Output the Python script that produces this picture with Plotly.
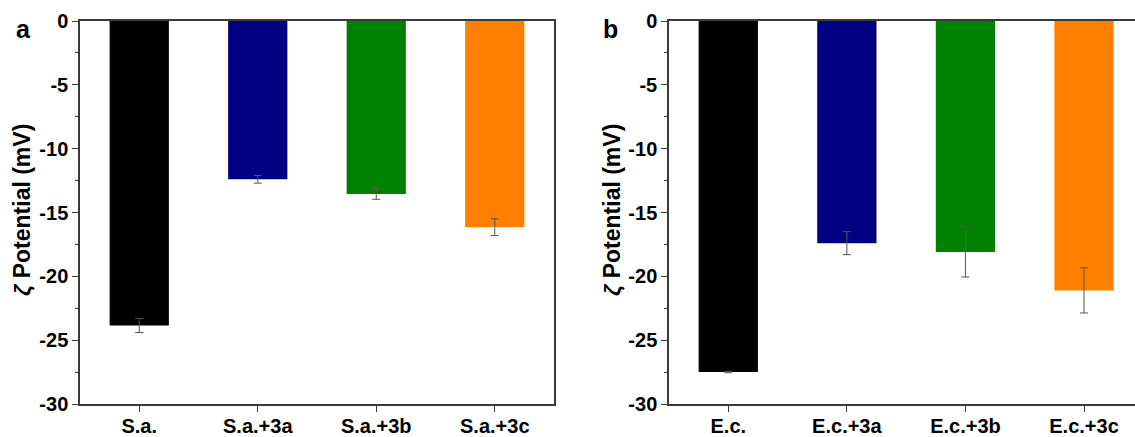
import plotly.graph_objects as go

# ---- data ----
cats_a = ["S.a.", "S.a.+3a", "S.a.+3b", "S.a.+3c"]
vals_a = [-23.85, -12.4, -13.55, -16.15]
errs_a = [0.55, 0.3, 0.42, 0.66]

cats_b = ["E.c.", "E.c.+3a", "E.c.+3b", "E.c.+3c"]
vals_b = [-27.5, -17.4, -18.1, -21.1]
errs_b = [0.05, 0.9, 1.95, 1.77]

bar_colors = ["#000000", "#000080", "#008000", "#FF8000"]
y_tickvals = [0, -5, -10, -15, -20, -25, -30]
y_ticktext = ["0", "-5", "-10", "-15", "-20", "-25", "-30"]
y_title = "<i>ζ</i> Potential (mV)"
panel_labels = ["a", "b"]

W, H = 1135, 437
FONT = "Liberation Sans, Arial, sans-serif"
AXC = "#3a3a3a"

fig = go.Figure()
for cats, vals, errs, xa, ya in [(cats_a, vals_a, errs_a, "x", "y"),
                                 (cats_b, vals_b, errs_b, "x2", "y2")]:
    fig.add_trace(go.Bar(
        x=cats, y=vals, width=0.5,
        marker=dict(color=bar_colors, line=dict(width=0)),
        error_y=dict(type="data", array=errs, visible=True,
                     color="#555555", thickness=1, width=4),
        xaxis=xa, yaxis=ya, showlegend=False,
    ))

def px_x(p):
    return p / W

def px_y(p):
    return 1 - p / H

tickfont = dict(family=FONT, size=20, color="black", weight="bold")

common_x = dict(type="category", showline=True, linecolor=AXC, linewidth=1.5,
                ticks="outside", ticklen=6, tickwidth=1, tickcolor=AXC,
                tickfont=tickfont, showgrid=False, zeroline=False,
                automargin=False, ticklabelstandoff=-3)
common_y = dict(range=[-30, 0], showline=True, linecolor=AXC, linewidth=1.5,
                ticks="outside", ticklen=6, tickwidth=1, tickcolor=AXC,
                tickvals=y_tickvals, ticktext=y_ticktext,
                minor=dict(dtick=2.5, tick0=0, ticks="outside", ticklen=3,
                           tickcolor=AXC, tickwidth=1, showgrid=False),
                tickfont=tickfont, showgrid=False, zeroline=False,
                automargin=False)

ydom = [px_y(404), px_y(21)]

fig.update_layout(
    template="none",
    width=W, height=H,
    margin=dict(l=0, r=0, t=0, b=0, pad=0),
    paper_bgcolor="white", plot_bgcolor="white",
    xaxis=dict(domain=[px_x(80), px_x(554)], range=[-0.5, 3.5], mirror=True,
               anchor="y", **common_x),
    yaxis=dict(domain=ydom, anchor="x", mirror=True, **common_y),
    xaxis2=dict(domain=[px_x(669), 1.0], range=[-0.5, 3.43], mirror=True,
                anchor="y2", **common_x),
    yaxis2=dict(domain=ydom, anchor="x2", mirror=False, **common_y),
)

annos = []
for xc in [22, 612]:
    annos.append(dict(x=px_x(xc), y=px_y(210), xref="paper", yref="paper",
                      text=y_title, textangle=-90, showarrow=False,
                      font=dict(family=FONT, size=23, color="black", weight="bold"),
                      xanchor="center", yanchor="middle"))
for lab, xc in zip(panel_labels, [23, 610]):
    annos.append(dict(x=px_x(xc), y=px_y(29), xref="paper", yref="paper",
                      text=lab, showarrow=False,
                      font=dict(family=FONT, size=25, color="black", weight="bold"),
                      xanchor="center", yanchor="middle"))
fig.update_layout(annotations=annos)

fig.write_html("out.html")
